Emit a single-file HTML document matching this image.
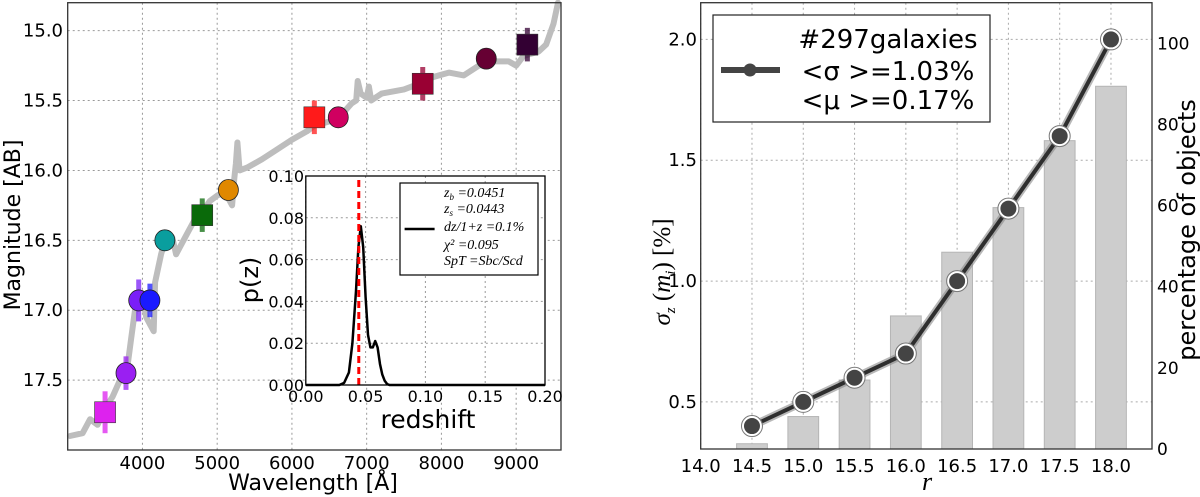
<!DOCTYPE html>
<html><head><meta charset="utf-8"><style>
html,body{margin:0;padding:0;background:#fff;}
svg{display:block;font-family:"DejaVu Sans","Liberation Sans",sans-serif;}
</style></head><body>
<svg id="fig" width="1200" height="497" viewBox="0 0 1200 497" xmlns="http://www.w3.org/2000/svg">
<g id="left"></g>
<g id="inset"></g>
<g id="right"></g>
</svg>
<script>
// ---- left panel data ----
const specWl = [3030,3200,3300,3400,3500,3600,3700,3800,3850,3900,3950,4000,4050,4100,4150,4170,4250,4300,4400,4450,4500,4600,4700,4800,4900,5000,5100,5150,5200,5230,5250,5270,5300,5400,5600,5800,6000,6200,6300,6500,6700,6800,6860,6880,6920,7000,7030,7060,7200,7500,7700,7900,8100,8300,8500,8700,8900,9000,9100,9300,9400,9500,9560];
const specMag = [17.9,17.88,17.78,17.82,17.7,17.62,17.5,17.4,17.2,17.0,16.95,16.9,17.05,17.1,17.15,16.8,16.6,16.5,16.48,16.6,16.55,16.45,16.35,16.3,16.22,16.18,16.15,16.2,16.25,16.05,15.95,15.8,16.0,15.98,15.92,15.85,15.78,15.72,15.68,15.65,15.58,15.52,15.5,15.36,15.45,15.48,15.4,15.5,15.45,15.42,15.38,15.33,15.3,15.32,15.25,15.22,15.22,15.25,15.18,15.15,15.1,14.95,14.8];
const photWl = [3500,3780,3950,4100,4300,4800,5150,6300,6620,7750,8600,9150];
const photMag = [17.73,17.45,16.93,16.93,16.5,16.32,16.14,15.62,15.62,15.38,15.2,15.1];
const photErr = [0.15,0.12,0.15,0.12,0,0.12,0,0.12,0,0.12,0,0.12];
const photShape = ["s","c","c","c","c","s","c","s","c","s","c","s"];
const photColor = ["#dd22ee","#9a1ff2","#7a1ff8","#1a1aff","#0a9e9e","#0a6a0a","#e08800","#ff1a1a","#d00060","#990033","#660033","#330033"];
const wlTicks = [4000,5000,6000,7000,8000,9000];
const magTicks = [15.0,15.5,16.0,16.5,17.0,17.5];
// ---- inset data ----
const pzZ = [0,0.028,0.032,0.036,0.039,0.042,0.044,0.046,0.048,0.050,0.052,0.054,0.056,0.058,0.060,0.062,0.064,0.066,0.068,0.07,0.2];
const pzP = [0,0,0.001,0.006,0.02,0.045,0.066,0.076,0.066,0.042,0.024,0.018,0.018,0.021,0.018,0.01,0.005,0.002,0.0005,0,0];
const zSpec = 0.0443;
const zTicks = [0.00,0.05,0.10,0.15,0.20];
const pTicks = [0.00,0.02,0.04,0.06,0.08,0.10];
const legendLines = [["z","b","=0.0451"],["z","s","=0.0443"],["dz/1+z","","=0.1%"],["χ²","","=0.095"],["SpT","","=Sbc/Scd"]];
// ---- right panel data ----
const rBins = [14.5,15.0,15.5,16.0,16.5,17.0,17.5,18.0];
const sigmaVals = [0.40,0.50,0.60,0.70,1.00,1.30,1.60,2.00];
const pctVals = [1.3,8,17,32.8,48.5,59.5,76,89.4];
const rTicks = [14.0,14.5,15.0,15.5,16.0,16.5,17.0,17.5,18.0];
const sTicks = [0.5,1.0,1.5,2.0];
const pctTicks = [0,20,40,60,80,100];

const NS="http://www.w3.org/2000/svg";
function mk(parent,tag,attrs,text){const e=document.createElementNS(NS,tag);for(const k in attrs)e.setAttribute(k,attrs[k]);if(text!==undefined)e.textContent=text;parent.appendChild(e);return e;}

// ===== LEFT =====
const L=document.getElementById('left');
const lx0=67.7,lx1=561,ly0=2.7,ly1=450;
const xW=w=>lx0+(w-3000)/(9600-3000)*(lx1-lx0);
const yM=m=>ly0+(m-14.8)/(18.0-14.8)*(ly1-ly0);
wlTicks.forEach(t=>{const g=mk(L,'line',{x1:xW(t),x2:xW(t),y1:ly0,y2:ly1,stroke:'#999','stroke-dasharray':'2,3','stroke-width':1});

const tl=mk(L,'text',{x:xW(t),y:469,'text-anchor':'middle','font-size':18},String(t));
});
magTicks.forEach(t=>{const g=mk(L,'line',{x1:lx0,x2:lx1,y1:yM(t),y2:yM(t),stroke:'#999','stroke-dasharray':'2,3','stroke-width':1});

const tl=mk(L,'text',{x:63,y:yM(t)+6,'text-anchor':'end','font-size':18},t.toFixed(1));
});
let d='';specWl.forEach((w,i)=>{d+=(i?'L':'M')+xW(w).toFixed(1)+','+yM(specMag[i]).toFixed(1);});
const sp=mk(L,'path',{d:d,fill:'none',stroke:'#bdbdbd','stroke-width':6,'stroke-linejoin':'round','stroke-linecap':'round'});

photWl.forEach((w,i)=>{const cx=xW(w),cy=yM(photMag[i]);
if(photErr[i]>0){const eb=mk(L,'line',{x1:cx,x2:cx,y1:yM(photMag[i]-photErr[i]),y2:yM(photMag[i]+photErr[i]),stroke:photColor[i],'stroke-width':5,opacity:0.75});
}
let m;
if(photShape[i]==='s'){m=mk(L,'rect',{x:cx-10.5,y:cy-10.5,width:21,height:21,fill:photColor[i],stroke:'#333','stroke-width':0.6});}
else{m=mk(L,'ellipse',{cx:cx,cy:cy,rx:10,ry:10.5,fill:photColor[i],stroke:'#222','stroke-width':0.8});}
});
const lf=mk(L,'rect',{x:lx0,y:ly0,width:lx1-lx0,height:ly1-ly0,fill:'none',stroke:'#333','stroke-width':1.3});

const yl=mk(L,'text',{x:0,y:0,'font-size':22,'text-anchor':'middle',transform:'translate(20,225) rotate(-90)'},'Magnitude [AB]');

const xl=mk(L,'text',{x:313,y:490,'font-size':22,'text-anchor':'middle'},'Wavelength [Å]');


// ===== INSET =====
const I=document.getElementById('inset');
const ix0=305.8,ix1=545,iy0=176,iy1=385;
const xZ=z=>ix0+z/0.2*(ix1-ix0);
const yP=p=>iy1-p/0.1*(iy1-iy0);
const ibg=mk(I,'rect',{x:ix0,y:iy0,width:ix1-ix0,height:iy1-iy0,fill:'#fff'});

zTicks.forEach(t=>{const g=mk(I,'line',{x1:xZ(t),x2:xZ(t),y1:iy0,y2:iy1,stroke:'#999','stroke-dasharray':'2,3'});

const tl=mk(I,'text',{x:xZ(t),y:402,'text-anchor':'middle','font-size':16},t.toFixed(2));
});
pTicks.forEach(t=>{const g=mk(I,'line',{x1:ix0,x2:ix1,y1:yP(t),y2:yP(t),stroke:'#999','stroke-dasharray':'2,3'});

const tl=mk(I,'text',{x:304,y:yP(t)+6,'text-anchor':'end','font-size':16},t.toFixed(2));
});
let pd='';pzZ.forEach((z,i)=>{pd+=(i?'L':'M')+xZ(z).toFixed(1)+','+yP(pzP[i]).toFixed(1);});
const pc=mk(I,'path',{d:pd,fill:'none',stroke:'#000','stroke-width':2.5,'stroke-linejoin':'round'});

const zl=mk(I,'line',{x1:xZ(zSpec),x2:xZ(zSpec),y1:iy0+4,y2:iy1,stroke:'#ff0000','stroke-width':3,'stroke-dasharray':'7,4'});

const ifr=mk(I,'rect',{x:ix0,y:iy0,width:ix1-ix0,height:iy1-iy0,fill:'none',stroke:'#000','stroke-width':1.3});

const ilg=mk(I,'rect',{x:400,y:183,width:138,height:92,fill:'#fff',stroke:'#000','stroke-width':1.2});

const ill=mk(I,'line',{x1:404.6,x2:434.6,y1:229,y2:229,stroke:'#000','stroke-width':2.5});

const lyPos=[197,213,231,249,265];
legendLines.forEach((s,i)=>{const t=mk(I,'text',{x:444,y:lyPos[i],'font-size':14,'font-style':'italic','font-family':'"Liberation Serif",serif'});

mk(t,'tspan',{},s[0]);
if(s[1])mk(t,'tspan',{'font-size':9,dy:3},s[1]);
mk(t,'tspan',{dy:s[1]?-3:0},' '+s[2]);});
const pzl=mk(I,'text',{x:0,y:0,'font-size':24,'text-anchor':'middle',transform:'translate(258,280) rotate(-90)'},'p(z)');

const rsl=mk(I,'text',{x:428,y:428,'font-size':25,'text-anchor':'middle'},'redshift');


// ===== RIGHT =====
const R=document.getElementById('right');
const rx0=700.7,rx1=1152,ry0=2.7,ry1=449;
const xR=r=>rx0+(r-14.0)/(18.4-14.0)*(rx1-rx0);
const yS=s=>ry1-(s-0.305)/(2.152-0.305)*(ry1-ry0);
const yPc=p=>ry1-p/110*(ry1-ry0);
rTicks.forEach(t=>{const g=mk(R,'line',{x1:xR(t),x2:xR(t),y1:ry0,y2:ry1,stroke:'#aaa','stroke-dasharray':'2,3'});

const tl=mk(R,'text',{x:xR(t),y:472,'text-anchor':'middle','font-size':18},t.toFixed(1));
});
sTicks.forEach(t=>{const g=mk(R,'line',{x1:rx0,x2:rx1,y1:yS(t),y2:yS(t),stroke:'#aaa','stroke-dasharray':'2,3'});

const tl=mk(R,'text',{x:697,y:yS(t)+6,'text-anchor':'end','font-size':18},t.toFixed(1));
});
pctTicks.forEach(t=>{const tl=mk(R,'text',{x:1157,y:yPc(t)+6,'text-anchor':'start','font-size':17},String(t));
});
rBins.forEach((r,i)=>{const w=xR(r+0.15)-xR(r-0.15);
const b=mk(R,'rect',{x:xR(r-0.15),y:yPc(pctVals[i]),width:w,height:ry1-yPc(pctVals[i]),fill:'#cdcdcd',stroke:'#b5b5b5','stroke-width':1});
});
let sd='';rBins.forEach((r,i)=>{sd+=(i?'L':'M')+xR(r).toFixed(1)+','+yS(sigmaVals[i]).toFixed(1);});
const sl0=mk(R,'path',{d:sd,fill:'none',stroke:'#888','stroke-width':8,'stroke-linejoin':'round',opacity:0.6});

const sl=mk(R,'path',{d:sd,fill:'none',stroke:'#2e2e2e','stroke-width':4,'stroke-linejoin':'round'});

rBins.forEach((r,i)=>{const c=mk(R,'circle',{cx:xR(r),cy:yS(sigmaVals[i]),r:9,fill:'#444',stroke:'#fff','stroke-width':2});

const o=mk(R,'circle',{cx:xR(r),cy:yS(sigmaVals[i]),r:10.5,fill:'none',stroke:'#777','stroke-width':1});
});
const rf=mk(R,'rect',{x:rx0,y:ry0,width:rx1-rx0,height:ry1-ry0,fill:'none',stroke:'#333','stroke-width':1.3});

const rlg=mk(R,'rect',{x:713,y:15,width:277,height:107,fill:'#fff',stroke:'#222','stroke-width':1.2});

const rll=mk(R,'line',{x1:721,x2:780,y1:70,y2:70,stroke:'#444','stroke-width':6});

const rld=mk(R,'circle',{cx:750,cy:70,r:6.5,fill:'#444'});

const rt1=mk(R,'text',{x:888,y:48,'text-anchor':'middle','font-size':26},'#297galaxies');

const rt2=mk(R,'text',{x:888,y:80,'text-anchor':'middle','font-size':26},'<σ >=1.03%');

const rt3=mk(R,'text',{x:888,y:109,'text-anchor':'middle','font-size':26},'<μ >=0.17%');

const syl=mk(R,'text',{x:0,y:0,'font-size':25,'text-anchor':'middle','font-family':'"Liberation Serif",serif',transform:'translate(670,272) rotate(-90)'});

mk(syl,'tspan',{'font-style':'italic'},'σ');
mk(syl,'tspan',{'font-size':15,'font-style':'italic',dy:5},'z');
mk(syl,'tspan',{dy:-5},'  (');
mk(syl,'tspan',{'font-style':'italic'},'m');
mk(syl,'tspan',{'font-size':15,'font-style':'italic',dy:5},'i');
mk(syl,'tspan',{dy:-5},')  [%]');
const pyl=mk(R,'text',{x:0,y:0,'font-size':24,'text-anchor':'middle',transform:'translate(1195,230) rotate(-90)'},'percentage of objects');

const rxl=mk(R,'text',{x:927,y:490,'font-size':26,'font-style':'italic','text-anchor':'middle','font-family':'"Liberation Serif",serif'},'r');

</script>
</body></html>
